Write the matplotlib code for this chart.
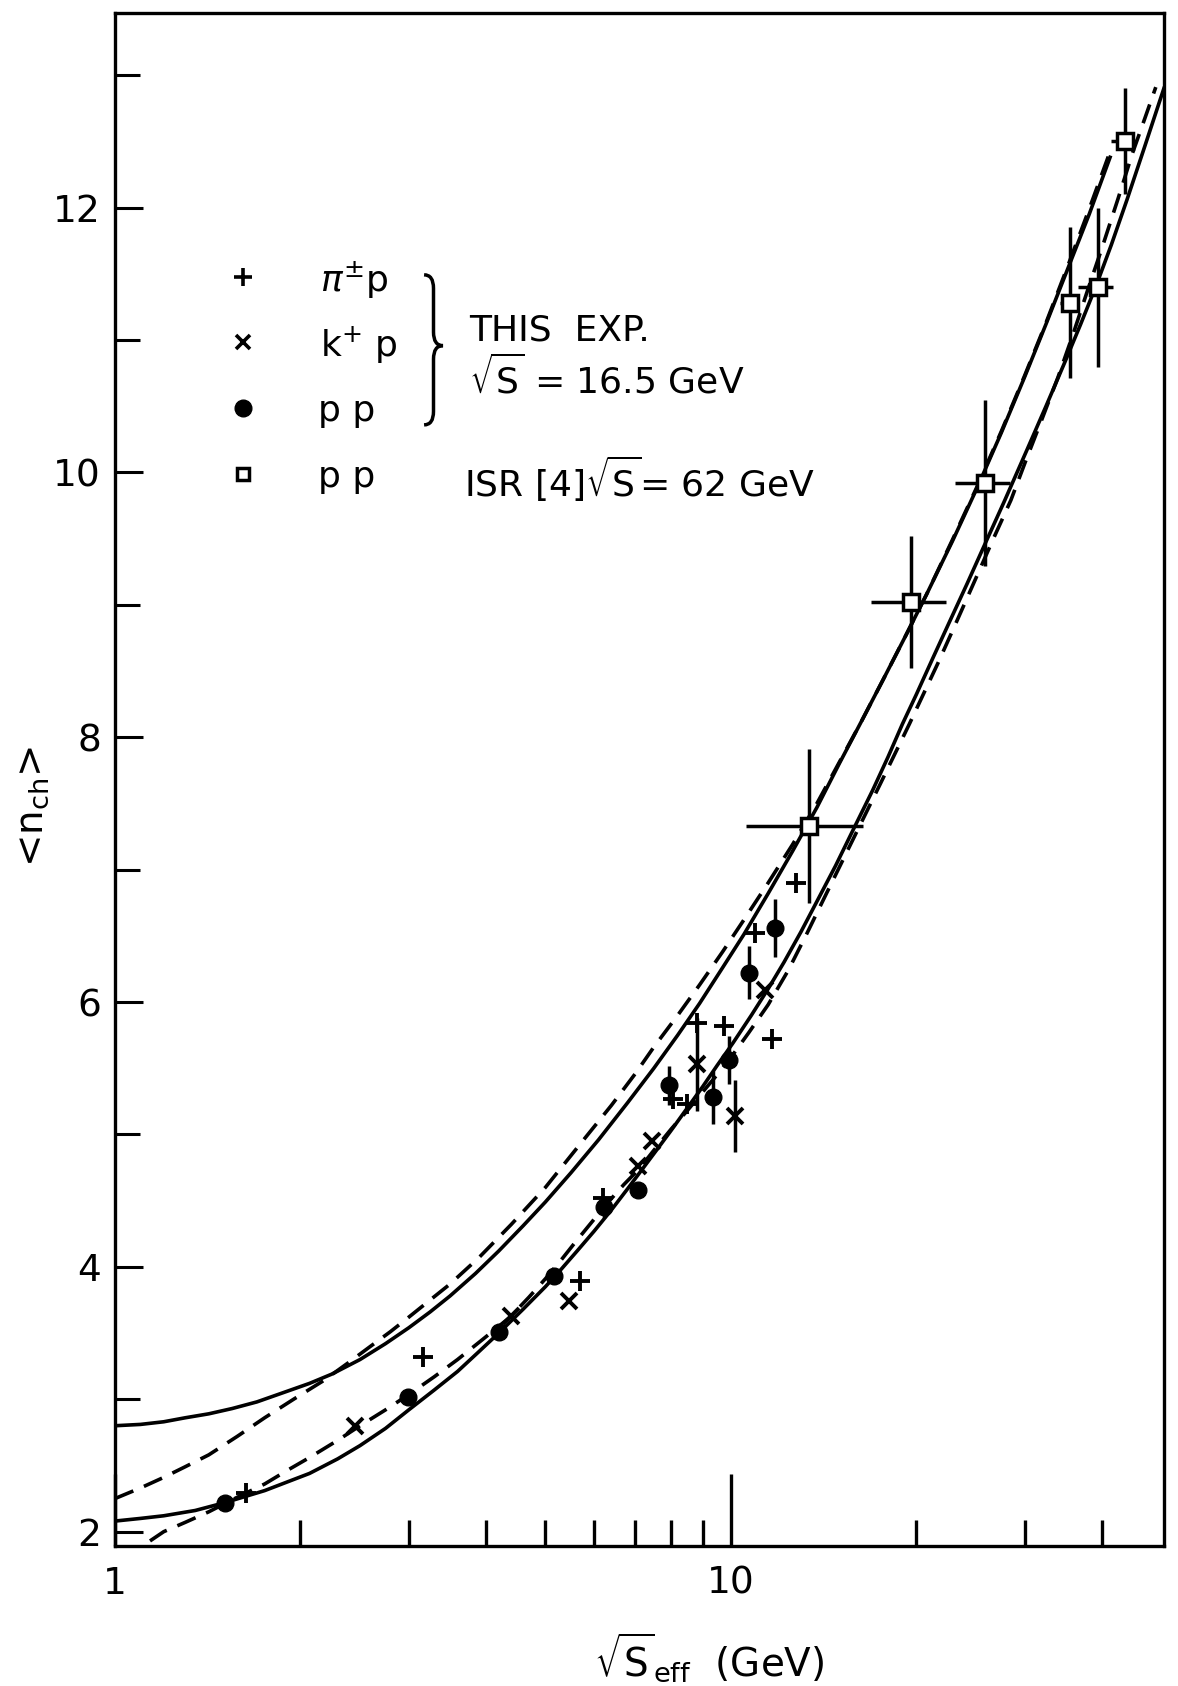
import numpy as np
import matplotlib
matplotlib.use('Agg')
import matplotlib.pyplot as plt
from matplotlib.ticker import FixedLocator, FixedFormatter, NullFormatter
from matplotlib.lines import Line2D
from matplotlib.path import Path
from matplotlib.patches import PathPatch

plt.rcParams['font.family'] = ['DejaVu Sans']
plt.rcParams['mathtext.fontset'] = 'dejavusans'

# ---------------- data ----------------
# theoretical curves
upper_solid_x = [1.0, 1.1, 1.2, 1.3, 1.42, 1.55, 1.7, 1.85, 2.07, 2.25, 2.5, 2.75, 3.0, 3.25, 3.5, 3.85,
                 4.2, 4.6, 5.0, 5.5, 6.1, 6.8, 7.5, 8.2, 8.9, 9.7, 10.5, 11.5, 12.6, 13.8, 15.0, 16.3,
                 17.7, 19.2, 20.8, 22.9, 25.1, 27.5, 30.0, 32.5, 35.2, 38.2, 41.3]
upper_solid_y = [2.80, 2.81, 2.83, 2.86, 2.89, 2.93, 2.98, 3.04, 3.12, 3.19, 3.30, 3.42, 3.54, 3.66, 3.78, 3.95,
                 4.12, 4.31, 4.49, 4.71, 4.96, 5.24, 5.50, 5.75, 5.99, 6.26, 6.51, 6.82, 7.14, 7.47, 7.80, 8.12,
                 8.44, 8.76, 9.08, 9.48, 9.88, 10.30, 10.72, 11.12, 11.53, 11.95, 12.38]

upper_dash_x = [1.0, 1.1, 1.2, 1.3, 1.42, 1.58, 1.75, 1.95, 2.18, 2.4, 2.6, 2.8, 3.0, 3.25, 3.5, 3.9,
                4.4, 5.0, 5.7, 6.4, 7.0, 7.5, 8.2, 8.9, 9.7, 10.5, 11.5, 12.6, 13.8, 15.0, 16.3, 17.7,
                19.2, 20.8, 22.9, 25.1, 27.5, 30.0, 32.5, 35.2, 38.2, 41.5]
upper_dash_y = [2.25, 2.33, 2.41, 2.49, 2.58, 2.72, 2.86, 3.00, 3.14, 3.28, 3.40, 3.51, 3.62, 3.75, 3.87, 4.07,
                4.32, 4.60, 4.93, 5.22, 5.46, 5.66, 5.90, 6.13, 6.38, 6.62, 6.90, 7.19, 7.50, 7.81, 8.12, 8.44,
                8.76, 9.08, 9.49, 9.89, 10.31, 10.73, 11.13, 11.55, 11.99, 12.45]

lower_solid_x = [1.0, 1.1, 1.2, 1.35, 1.51, 1.75, 2.07, 2.3, 2.5, 2.75, 3.0, 3.3, 3.6, 3.9, 4.2, 4.6,
                 5.0, 5.3, 5.63, 6.0, 6.4, 6.8, 7.11, 7.6, 8.0, 8.5, 9.0, 9.5, 10.08, 10.8, 11.5, 12.2,
                 13.0, 13.8, 14.8, 15.8, 17.0, 18.0, 19.0, 20.0, 21.3, 22.7, 24.2, 25.7, 27.8, 30.2,
                 32.5, 35.0, 37.0, 39.2, 41.5, 44.0, 47.0, 50.5]
lower_solid_y = [2.08, 2.10, 2.12, 2.16, 2.22, 2.31, 2.44, 2.55, 2.65, 2.78, 2.92, 3.07, 3.21, 3.36, 3.50, 3.68,
                 3.85, 3.98, 4.12, 4.27, 4.43, 4.59, 4.71, 4.89, 5.03, 5.20, 5.36, 5.52, 5.69, 5.90, 6.10, 6.30,
                 6.53, 6.76, 7.03, 7.30, 7.60, 7.85, 8.10, 8.32, 8.60, 8.88, 9.16, 9.43, 9.78, 10.16,
                 10.50, 10.85, 11.12, 11.41, 11.72, 12.06, 12.46, 12.90]

lower_dash_x = [1.14, 1.2, 1.3, 1.42, 1.58, 1.75, 1.9, 2.07, 2.3, 2.5, 2.75, 3.01, 3.3, 3.6, 3.95, 4.38,
                4.7, 5.0, 5.3, 5.6, 6.0, 6.3, 6.7, 7.1, 7.5, 8.0, 8.5, 9.0, 9.5, 10.0, 10.7, 11.5,
                12.4, 13.3, 14.3, 15.8, 17.5, 19.5, 21.7, 23.3, 25.0, 26.7, 28.5, 30.2, 32.0, 34.0,
                36.0, 38.0, 40.1, 42.5, 44.9, 47.0, 49.0]
lower_dash_y = [1.93, 2.00, 2.07, 2.15, 2.26, 2.36, 2.46, 2.56, 2.69, 2.80, 2.92, 3.04, 3.17, 3.30, 3.45, 3.62,
                3.77, 3.91, 4.05, 4.19, 4.36, 4.48, 4.62, 4.74, 4.88, 5.04, 5.18, 5.32, 5.45, 5.58, 5.77, 5.98,
                6.24, 6.52, 6.82, 7.23, 7.65, 8.10, 8.56, 8.88, 9.20, 9.50, 9.79, 10.10, 10.40, 10.72,
                11.05, 11.38, 11.70, 12.06, 12.41, 12.67, 12.91]

# pi+- p (this exp.)
pip_x = [1.63, 3.16, 5.70, 6.2, 8.05, 8.48, 8.83, 9.76, 11.65, 10.93, 12.78]
pip_y = [2.29, 3.32, 3.89, 4.52, 5.27, 5.23, 5.84, 5.82, 5.72, 6.52, 6.90]

# K+- p (this exp.)
kp_x = [2.45, 4.40, 5.47, 7.08, 7.44, 8.83, 10.16, 11.37]
kp_y = [2.80, 3.63, 3.74, 4.76, 4.95, 5.53, 5.14, 6.09]
kp_yerr = [0, 0, 0, 0, 0, 0.35, 0.27, 0]

# p p (this exp.)
pp_x = [1.51, 2.99, 4.20, 5.17, 6.22, 7.08, 7.95, 9.34, 9.92, 10.71, 11.79]
pp_y = [2.22, 3.02, 3.51, 3.93, 4.45, 4.58, 5.37, 5.28, 5.56, 6.22, 6.56]
pp_yerr = [0, 0, 0, 0.06, 0.08, 0, 0.15, 0.20, 0.18, 0.20, 0.22]

# p p ISR
isr_x = [13.4, 19.65, 25.9, 35.5, 39.5, 43.7]
isr_y = [7.33, 9.02, 9.92, 11.28, 11.40, 12.50]
isr_yerr = [0.58, 0.50, 0.63, 0.57, 0.60, 0.40]
isr_xlo = [10.6, 16.9, 23.1, 34.3, 36.6, 41.4]
isr_xhi = [16.4, 22.4, 28.4, 36.7, 41.7, 45.5]

x_major = [1, 10]
x_major_labels = ['1', '10']
x_minor = [2, 3, 4, 5, 6, 7, 8, 9, 20, 30, 40]
y_major = [2, 4, 6, 8, 10, 12]
y_minor = [3, 5, 7, 9, 11, 13]

# ---------------- figure ----------------
fig = plt.figure(figsize=(11.78, 16.86), dpi=100)
ax = fig.add_axes([0.0976, 0.0829, 0.8904, 0.9094])
ax.set_xscale('log')
ax.set_xlim(1, 50.5)
ax.set_ylim(1.89, 13.47)

LW = 2.6
dash = (0, (5.5, 3.2))
ax.plot(upper_solid_x, upper_solid_y, color='k', lw=LW)
ax.plot(upper_dash_x, upper_dash_y, color='k', lw=LW, ls=dash)
ax.plot(lower_solid_x, lower_solid_y, color='k', lw=LW)
ax.plot(lower_dash_x, lower_dash_y, color='k', lw=LW, ls=dash)

# data points
ax.errorbar(pp_x, pp_y, yerr=pp_yerr, fmt='o', color='k', ms=12, elinewidth=2.5, capsize=0, zorder=5)
ax.plot(pip_x, pip_y, '+', color='k', ms=15, mew=2.8, zorder=5)
ax.errorbar(kp_x, kp_y, yerr=kp_yerr, fmt='x', color='k', ms=12, mew=2.8, elinewidth=2.5, capsize=0, zorder=5)
isr_xerr = [np.array(isr_x) - np.array(isr_xlo), np.array(isr_xhi) - np.array(isr_x)]
ax.errorbar(isr_x, isr_y, yerr=isr_yerr, xerr=isr_xerr, fmt='s', mfc='white', mec='k', color='k',
            ms=11, mew=2.5, elinewidth=2.5, capsize=0, zorder=6)

# axes styling
for s in ax.spines.values():
    s.set_linewidth(2.4)
ax.xaxis.set_major_locator(FixedLocator(x_major))
ax.xaxis.set_major_formatter(FixedFormatter(x_major_labels))
ax.xaxis.set_minor_locator(FixedLocator(x_minor))
ax.xaxis.set_minor_formatter(NullFormatter())
ax.yaxis.set_major_locator(FixedLocator(y_major))
ax.yaxis.set_minor_locator(FixedLocator(y_minor))
ax.yaxis.set_minor_formatter(NullFormatter())
ax.tick_params(axis='x', which='major', direction='in', length=52, width=2.4, labelsize=27, pad=14)
ax.tick_params(axis='x', which='minor', direction='in', length=19, width=2.4)
ax.tick_params(axis='y', which='major', direction='in', length=20, width=2.2, labelsize=27, pad=10)
ax.tick_params(axis='y', which='minor', direction='in', length=18, width=2.2)
ax.tick_params(top=False, right=False)

# axis labels
fig.text(0.602, 0.017, r'$\sqrt{\mathrm{S}}_{\mathrm{eff}}$  (GeV)', ha='center', va='center', fontsize=28)
fig.text(0.027, 0.522, r'<n$_{\mathrm{ch}}$>', ha='center', va='center', fontsize=28, rotation=90)

# legend
FS = 26
lx = 0.206
fig.add_artist(Line2D([lx], [0.8355], marker='+', color='k', ms=13, mew=2.6, ls='none'))
fig.add_artist(Line2D([lx], [0.797], marker='x', color='k', ms=10, mew=2.6, ls='none'))
fig.add_artist(Line2D([lx], [0.758], marker='o', color='k', ms=12, ls='none'))
fig.add_artist(Line2D([lx], [0.719], marker='s', mfc='white', mec='k', ms=9, mew=2.5, ls='none'))
fig.text(0.272, 0.834, r'$\pi^{\pm}$p', fontsize=FS, va='center')
fig.text(0.272, 0.795, r'k$^{+}$ p', fontsize=FS, va='center')
fig.text(0.270, 0.756, 'p p', fontsize=FS, va='center')
fig.text(0.270, 0.717, 'p p', fontsize=FS, va='center')

verts = [(0.360, 0.837), (0.368, 0.837), (0.368, 0.829),
         (0.368, 0.803),
         (0.368, 0.795), (0.376, 0.795),
         (0.368, 0.795), (0.368, 0.787),
         (0.368, 0.756),
         (0.368, 0.748), (0.360, 0.748)]
codes = [Path.MOVETO, Path.CURVE3, Path.CURVE3, Path.LINETO, Path.CURVE3, Path.CURVE3,
         Path.CURVE3, Path.CURVE3, Path.LINETO, Path.CURVE3, Path.CURVE3]
fig.add_artist(PathPatch(Path(verts, codes), fill=False, lw=2.5, color='k', transform=fig.transFigure))

fig.text(0.398, 0.804, 'THIS  EXP.', fontsize=FS, va='center')
fig.text(0.398, 0.776, r'$\sqrt{\mathrm{S}}$ = 16.5 GeV', fontsize=FS, va='center')
fig.text(0.394, 0.716, r'ISR [4]$\sqrt{\mathrm{S}}$= 62 GeV', fontsize=FS, va='center')

fig.savefig('out.png', dpi=100)
